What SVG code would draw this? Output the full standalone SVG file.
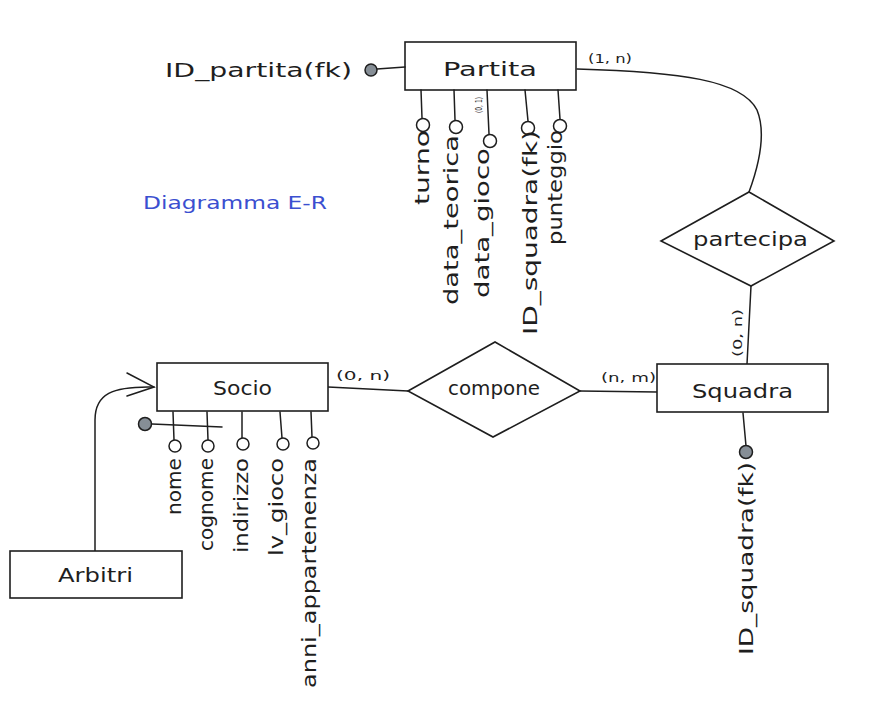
<svg xmlns="http://www.w3.org/2000/svg" width="887" height="702" viewBox="0 0 887 702">
<style>
.bg{fill:#ffffff}
.box{fill:#ffffff;stroke:#1e1e1e;stroke-width:1.6}
.ln{fill:none;stroke:#1e1e1e;stroke-width:1.5;stroke-linecap:round}
.att{fill:#ffffff;stroke:#1e1e1e;stroke-width:1.5}
.key{fill:#868e96;stroke:#1e1e1e;stroke-width:1.5}
.t{font-family:"DejaVu Sans","Liberation Sans",sans-serif;font-size:19px;fill:#1e1e1e}
.s{font-family:"DejaVu Sans","Liberation Sans",sans-serif;font-size:13px;fill:#1e1e1e}
.xs{font-family:"DejaVu Sans","Liberation Sans",sans-serif;font-size:8px;fill:#1e1e1e}
.title{font-family:"DejaVu Sans","Liberation Sans",sans-serif;font-size:17px;fill:#3b4fd0}
</style>
<rect class="bg" x="0" y="0" width="887" height="702"/>
<text class="title" x="143" y="209" textLength="184" lengthAdjust="spacingAndGlyphs">Diagramma E-R</text>

<g id="connectors">
  <path class="ln" d="M577,69 C680,72 742,80 757,110 C766,132 760,162 749,192"/>
  <path class="ln" d="M751,286 L747,364"/>
  <path class="ln" d="M328,387 L408,391"/>
  <path class="ln" d="M580,391 L657,392"/>
  <path class="ln" d="M95,551 L95,420 C95,394 112,386 154,387"/>
  <path class="ln" d="M127,373 L154,387 L127,396"/>
  <text class="s" x="588" y="63" textLength="44" lengthAdjust="spacingAndGlyphs">(1, n)</text>
  <text class="s" transform="translate(742,357) rotate(-90)" textLength="48" lengthAdjust="spacingAndGlyphs">(0, n)</text>
  <text class="s" x="336" y="380" textLength="54" lengthAdjust="spacingAndGlyphs">(0, n)</text>
  <text class="s" x="601" y="382" textLength="55" lengthAdjust="spacingAndGlyphs">(n, m)</text>
</g>

<g id="partita">
  <rect class="box" x="405" y="42" width="171" height="48"/>
  <text class="t" x="443" y="76" textLength="94" lengthAdjust="spacingAndGlyphs">Partita</text>
</g>

<g id="partita-attributes">
  <path class="ln" d="M377,69 L405,67"/>
  <circle class="key" cx="371" cy="70" r="6"/>
  <text class="t" x="165" y="77" textLength="187" lengthAdjust="spacingAndGlyphs">ID_partita(fk)</text>

  <path class="ln" d="M421,90 L422,118"/>
  <circle class="att" cx="423" cy="125" r="6.5"/>
  <text class="t" transform="translate(429,205) rotate(-90)" textLength="75" lengthAdjust="spacingAndGlyphs">turno</text>

  <path class="ln" d="M454,90 L455,120"/>
  <circle class="att" cx="456" cy="127" r="6.5"/>
  <text class="t" transform="translate(458,305) rotate(-90)" textLength="170" lengthAdjust="spacingAndGlyphs">data_teorica</text>

  <path class="ln" d="M487,90 L489,134"/>
  <circle class="att" cx="490" cy="141" r="6.5"/>
  <text class="t" transform="translate(489,298) rotate(-90)" textLength="150" lengthAdjust="spacingAndGlyphs">data_gioco</text>
  <text class="xs" transform="translate(482,113) rotate(-90)" textLength="16" lengthAdjust="spacingAndGlyphs">(0, 1)</text>

  <path class="ln" d="M525,90 L528,121"/>
  <circle class="att" cx="528" cy="128" r="6.5"/>
  <text class="t" transform="translate(537,335) rotate(-90)" textLength="205" lengthAdjust="spacingAndGlyphs">ID_squadra(fk)</text>

  <path class="ln" d="M558,90 L560,119"/>
  <circle class="att" cx="560" cy="126" r="6.5"/>
  <text class="t" transform="translate(562,245) rotate(-90)" textLength="115" lengthAdjust="spacingAndGlyphs">punteggio</text>
</g>

<g id="partecipa">
  <path class="box" d="M661,241 L749,192 L834,241 L751,286 Z"/>
  <text class="t" x="693" y="246" textLength="115" lengthAdjust="spacingAndGlyphs">partecipa</text>
</g>

<g id="squadra">
  <rect class="box" x="657" y="364" width="171" height="48"/>
  <text class="t" x="692" y="398" textLength="101" lengthAdjust="spacingAndGlyphs">Squadra</text>
</g>

<g id="squadra-attributes">
  <path class="ln" d="M743,413 L746,446"/>
  <circle class="key" cx="746" cy="452" r="6.5"/>
  <text class="t" transform="translate(753,655) rotate(-90)" textLength="193" lengthAdjust="spacingAndGlyphs">ID_squadra(fk)</text>
</g>

<g id="compone">
  <path class="box" d="M408,391 L495,342 L580,391 L493,437 Z"/>
  <text class="t" x="448" y="395" textLength="92" lengthAdjust="spacingAndGlyphs">compone</text>
</g>

<g id="socio">
  <rect class="box" x="157" y="363" width="171" height="48"/>
  <text class="t" x="213" y="395" textLength="59" lengthAdjust="spacingAndGlyphs">Socio</text>
</g>

<g id="socio-attributes">
  <path class="ln" d="M152,424 L222,427"/>
  <circle class="key" cx="145" cy="424" r="6.5"/>

  <path class="ln" d="M173,412 L174,440"/>
  <circle class="att" cx="175" cy="446" r="6"/>
  <text class="t" transform="translate(181,515) rotate(-90)" textLength="57" lengthAdjust="spacingAndGlyphs">nome</text>

  <path class="ln" d="M207,412 L208,440"/>
  <circle class="att" cx="208" cy="446" r="6"/>
  <text class="t" transform="translate(213,551) rotate(-90)" textLength="93" lengthAdjust="spacingAndGlyphs">cognome</text>

  <path class="ln" d="M242,412 L242,438"/>
  <circle class="att" cx="243" cy="444" r="6"/>
  <text class="t" transform="translate(248,553) rotate(-90)" textLength="95" lengthAdjust="spacingAndGlyphs">indirizzo</text>

  <path class="ln" d="M280,412 L282,438"/>
  <circle class="att" cx="283" cy="444" r="6"/>
  <text class="t" transform="translate(283,556) rotate(-90)" textLength="98" lengthAdjust="spacingAndGlyphs">lv_gioco</text>

  <path class="ln" d="M311,412 L312,437"/>
  <circle class="att" cx="313" cy="443" r="6"/>
  <text class="t" transform="translate(316,688) rotate(-90)" textLength="230" lengthAdjust="spacingAndGlyphs">anni_appartenenza</text>
</g>

<g id="arbitri">
  <rect class="box" x="10" y="551" width="172" height="47"/>
  <text class="t" x="58" y="582" textLength="75" lengthAdjust="spacingAndGlyphs">Arbitri</text>
</g>
</svg>
